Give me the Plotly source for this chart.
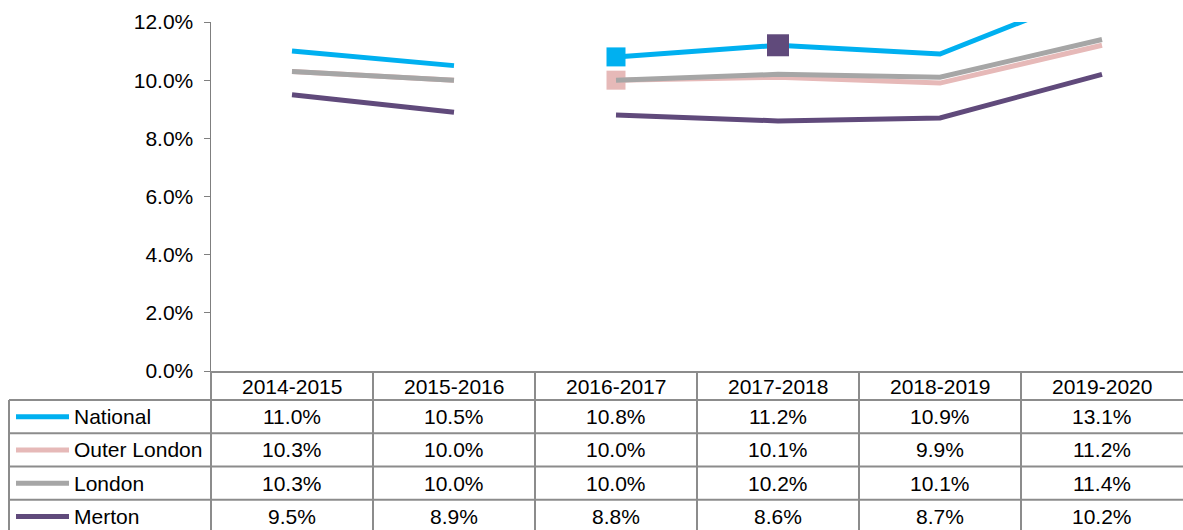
import plotly.graph_objects as go

categories = ["2014-2015", "2015-2016", "2016-2017", "2017-2018", "2018-2019", "2019-2020"]
series_names = ["National", "Outer London", "London", "Merton"]
national = [11.0, 10.5, 10.8, 11.2, 10.9, 13.1]
outer_london = [10.3, 10.0, 10.0, 10.1, 9.9, 11.2]
london = [10.3, 10.0, 10.0, 10.2, 10.1, 11.4]
merton = [9.5, 8.9, 8.8, 8.6, 8.7, 10.2]
colors = ["#00B0F0", "#E6B9B8", "#A6A6A6", "#604A7B"]
y_ticks = [0, 2, 4, 6, 8, 10, 12]

series_values = [national, outer_london, london, merton]
W, H = 1183, 530
SL, ST, SB = 211, 22, 371
L, T = SL, ST
B = H - SB
R = 0
PW, PH = W - L - R, H - T - B
FONT = "Liberation Sans, Arial, sans-serif"
FS = 21
GRID = "#8C8C8C"

def xp(sx):
    return (sx - SL) / PW

def yp(sy):
    return (SB - sy) / PH

fig = go.Figure()
segments = [(0, 2), (2, 6)]
for name, vals, col in zip(series_names, series_values, colors):
    for a, b in segments:
        fig.add_trace(go.Scatter(
            x=categories[a:b], y=[v / 100 for v in vals[a:b]], mode="lines",
            line=dict(color=col, width=5), showlegend=False, hoverinfo="skip"))
    if name == "National":
        fig.add_trace(go.Scatter(x=[categories[2]], y=[national[2] / 100], mode="markers",
                                 marker=dict(symbol="square", size=19, color=col),
                                 showlegend=False, cliponaxis=False))
    if name == "Outer London":
        fig.add_trace(go.Scatter(x=[categories[2]], y=[outer_london[2] / 100], mode="markers",
                                 marker=dict(symbol="square", size=19, color=col),
                                 showlegend=False, cliponaxis=False))
# stray Merton marker sitting on the National line in 2017-2018
fig.add_trace(go.Scatter(x=[categories[3]], y=[national[3] / 100], mode="markers",
                         marker=dict(symbol="square", size=22, color=colors[3]),
                         showlegend=False, cliponaxis=False))

shapes = []
annotations = []
ncol = len(categories)
colw = PW / ncol
header_top, header_bot = 371, 400
row_h = (533 - 400) / 4
row_lines = [header_bot + i * row_h for i in range(5)]
for k in range(ncol):
    x = SL + k * colw
    shapes.append(dict(type="line", xref="paper", yref="paper", x0=xp(x), x1=xp(x),
                       y0=yp(header_top), y1=yp(540), line=dict(color=GRID, width=2)))
shapes.append(dict(type="line", xref="paper", yref="paper", x0=xp(9), x1=xp(9),
                   y0=yp(header_bot), y1=yp(540), line=dict(color=GRID, width=2)))
for y in row_lines:
    shapes.append(dict(type="line", xref="paper", yref="paper", x0=xp(9), x1=xp(W + 5),
                       y0=yp(y), y1=yp(y), line=dict(color=GRID, width=2)))
for k, c in enumerate(categories):
    annotations.append(dict(text=c, xref="paper", yref="paper", x=(k + 0.5) / ncol,
                            y=yp((header_top + header_bot) / 2 + 1), showarrow=False,
                            font=dict(family=FONT, size=FS, color="#000"),
                            xanchor="center", yanchor="middle"))
for r, (name, vals, col) in enumerate(zip(series_names, series_values, colors)):
    yc = row_lines[r] + row_h / 2
    shapes.append(dict(type="line", xref="paper", yref="paper", x0=xp(16), x1=xp(69),
                       y0=yp(yc), y1=yp(yc), line=dict(color=col, width=5)))
    annotations.append(dict(text=name, xref="paper", yref="paper", x=xp(72), y=yp(yc),
                            showarrow=False, xanchor="left", yanchor="middle",
                            font=dict(family=FONT, size=FS, color="#000")))
    for k, v in enumerate(vals):
        annotations.append(dict(text=f"{v:.1f}%", xref="paper", yref="paper",
                                x=(k + 0.5) / ncol, y=yp(yc), showarrow=False,
                                xanchor="center", yanchor="middle",
                                font=dict(family=FONT, size=FS, color="#000")))

fig.update_layout(
    width=W, height=H, autosize=False,
    margin=dict(l=L, r=R, t=T, b=B, pad=0),
    paper_bgcolor="white", plot_bgcolor="white",
    shapes=shapes, annotations=annotations,
    hovermode=False,
    xaxis=dict(type="category", range=[-0.5, ncol - 0.5], showticklabels=False,
               ticks="", showgrid=False, zeroline=False, showline=True,
               linecolor=GRID, linewidth=2, fixedrange=True),
    yaxis=dict(range=[0, 0.12], tickvals=[t / 100 for t in y_ticks], tickformat=".1%",
               showgrid=False, zeroline=False, showline=True, linecolor="#7F7F7F",
               linewidth=1.5, ticks="outside", ticklen=6, tickcolor="#7F7F7F",
               ticklabelstandoff=6,
               tickfont=dict(family=FONT, size=FS, color="#000"), fixedrange=True),
)
fig.write_html("out.html", config={"displayModeBar": False, "staticPlot": True},
               post_script="document.body.style.margin='0';document.body.style.overflow='hidden';")
